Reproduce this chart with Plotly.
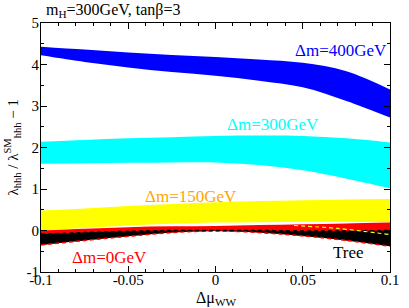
import plotly.graph_objects as go

# Delta mu_WW grid
x = [-0.1, -0.075, -0.05, -0.025, 0.0, 0.025, 0.05, 0.075, 0.1]

blue_hi = [4.43, 4.36, 4.29, 4.23, 4.18, 4.12, 4.04, 3.84, 3.40]
blue_lo = [4.22, 4.06, 3.93, 3.82, 3.73, 3.61, 3.45, 3.12, 2.72]

cyan_hi = [2.14, 2.18, 2.22, 2.25, 2.28, 2.29, 2.28, 2.22, 2.12]
cyan_lo = [1.61, 1.62, 1.63, 1.64, 1.64, 1.58, 1.45, 1.25, 1.02]

yel_hi = [0.48, 0.53, 0.59, 0.64, 0.68, 0.71, 0.73, 0.75, 0.76]
yel_lo = [0.00, 0.06, 0.12, 0.16, 0.19, 0.20, 0.21, 0.21, 0.20]

red_hi = [0.00, 0.04, 0.08, 0.10, 0.11, 0.13, 0.15, 0.17, 0.19]

tree_hi = [-0.09, -0.05, -0.02, 0.00, 0.00, 0.00, -0.01, -0.01, 0.00]
tree_lo = [-0.35, -0.24, -0.14, -0.05, -0.01, -0.05, -0.13, -0.24, -0.38]

yd_x = [0.045, 0.07, 0.1]
yd_y = [0.12, 0.05, -0.10]

xticks = [-0.1, -0.05, 0, 0.05, 0.1]
xticktext = ["-0.1", "-0.05", "0", "0.05", "0.1"]
yticks = [-1, 0, 1, 2, 3, 4, 5]
yticktext = ["-1", "0", "1", "2", "3", "4", "5"]

FONT = "Liberation Serif, Times New Roman, Times, DejaVu Serif, serif"

fig = go.Figure()


def band(lo, hi, color):
    fig.add_trace(go.Scatter(x=x, y=lo, mode="lines", line=dict(width=0, shape="spline", color=color),
                             hoverinfo="skip", showlegend=False))
    fig.add_trace(go.Scatter(x=x, y=hi, mode="lines", line=dict(width=0, shape="spline", color=color),
                             fill="tonexty", fillcolor=color, hoverinfo="skip", showlegend=False))


band(cyan_lo, cyan_hi, "#00ffff")
band(blue_lo, blue_hi, "#0000ff")
band(yel_lo, yel_hi, "#ffff00")
band(tree_lo, red_hi, "#ff0000")
band(tree_lo, tree_hi, "#000000")

fig.add_trace(go.Scatter(x=x, y=tree_lo, mode="lines",
                         line=dict(width=1.5, color="#ff0000", dash="4px,3px", shape="spline"),
                         hoverinfo="skip", showlegend=False))
fig.add_trace(go.Scatter(x=x, y=tree_hi, mode="lines",
                         line=dict(width=1.5, color="#000000", dash="4px,3px", shape="spline"),
                         hoverinfo="skip", showlegend=False))
fig.add_trace(go.Scatter(x=yd_x, y=yd_y, mode="lines",
                         line=dict(width=1.2, color="#ffff00", dash="4px,3px", shape="spline"),
                         hoverinfo="skip", showlegend=False))

labels = [
    (0.0720, 4.33, "Δm=400GeV", "#0000ff"),
    (0.0330, 2.56, "Δm=300GeV", "#00ffff"),
    (-0.014, 0.83, "Δm=150GeV", "#ffa500"),
    (-0.061, -0.64, "Δm=0GeV", "#ff0000"),
    (0.0760, -0.52, "Tree", "#000000"),
]
for lx, ly, txt, col in labels:
    fig.add_annotation(x=lx, y=ly, text=txt, showarrow=False, xanchor="center", yanchor="middle",
                       font=dict(family=FONT, size=17, color=col))

fig.add_annotation(xref="paper", yref="paper", x=0, y=1, xshift=3, yshift=1,
                   text="m<sub>H</sub>=300GeV, tanβ=3", showarrow=False,
                   xanchor="left", yanchor="bottom", font=dict(family=FONT, size=16, color="black"))

fig.add_annotation(xref="paper", yref="paper", x=0.5, y=0, yshift=-15,
                   text="Δμ<sub>WW</sub>", showarrow=False,
                   xanchor="center", yanchor="top", font=dict(family=FONT, size=16, color="black"))

fig.add_annotation(xref="paper", yref="paper", x=0, y=0.5, xshift=-29,
                   text="λ<sub>hhh</sub> / λ<sup>SM</sup><sub>hhh</sub> − 1", showarrow=False, textangle=-90,
                   xanchor="center", yanchor="middle", font=dict(family=FONT, size=15, color="black"))

axis_common = dict(showline=True, linecolor="black", linewidth=1, mirror="ticks",
                   ticks="inside", ticklen=6, tickcolor="black", showgrid=False, zeroline=False,
                   tickfont=dict(family=FONT, size=15, color="black"))

fig.update_xaxes(range=[-0.1, 0.1], tickmode="array", tickvals=xticks, ticktext=xticktext,
                 minor=dict(tick0=-0.1, dtick=0.01, ticks="inside", ticklen=3, tickcolor="black"),
                 ticklabelstandoff=-6, **axis_common)
fig.update_yaxes(range=[-1, 5], tickmode="array", tickvals=yticks, ticktext=yticktext,
                 minor=dict(tick0=-1, dtick=0.5, ticks="inside", ticklen=3, tickcolor="black"),
                 ticklabelstandoff=-2, **axis_common)

fig.update_layout(width=409, height=308, margin=dict(l=41, r=10, t=23, b=36),
                  plot_bgcolor="white", paper_bgcolor="white", showlegend=False,
                  font=dict(family=FONT))

fig.write_html("out.html", config={"displayModeBar": False},
               post_script="document.body.style.margin='0';document.body.style.overflow='hidden';")
